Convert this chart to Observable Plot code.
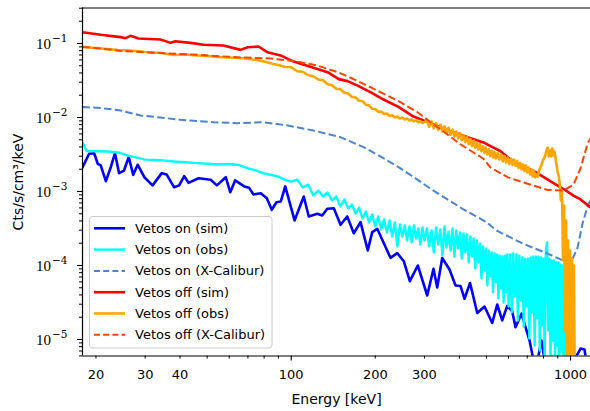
<!DOCTYPE html>
<html>
<head>
<meta charset="utf-8">
<script src="https://cdn.jsdelivr.net/npm/d3@7"></script>
<script src="https://cdn.jsdelivr.net/npm/@observablehq/plot@0.6"></script>
<style>
  html, body { margin: 0; padding: 0; background: #fff; }
  #chart { width: 590px; height: 411px; }
</style>
</head>
<body>
<div id="chart"></div>
<script>
// ---- Background spectra, counts / s / cm^3 / keV versus energy (keV) ----

const seriesNames = ["Vetos on (sim)", "Vetos on (obs)", "Vetos on (X-Calibur)",
                     "Vetos off (sim)", "Vetos off (obs)", "Vetos off (X-Calibur)"];
const seriesColors = ["#0000ff", "#00ffff", "#4a85d3", "#ff0000", "#ffa500", "#ff4500"];

// Vetos on, simulation
const onSimEnergy = [17.9,18.4,18.9,19.7,20.3,20.8,21.7,22.6,23.4,24.2,25.2,26.2,27.2,28.2,29.8,31.9,34.4,35.8,38.1,39.7,41.4,42.9,46.6,51.5,54.2,58.3,60.5,63.0,67.9,70.7,73.3,77.8,81.8,85.2,88.6,91.8,95.2,102.8,110.9,115.6,123.9,129.1,134.6,142.1,150.2,158.7,167.5,177.1,188.0,195.0,203.3,226.7,239.6,253.1,265.9,284.0,306.9,323.2,333.2,347.2,368.8,387.5,403.9,417.4,436.8,463.5,492.2,524.4,546.4,569.4,593.4,618.4,635.5,667.7,713.3,749.5,787.3,820.6,936.4,1068,1086,1122,1141];
const onSimRate = [2.11e-3,2.62e-3,3.23e-3,3.29e-3,2.37e-3,2.25e-3,1.38e-3,2.13e-3,3.29e-3,1.77e-3,1.92e-3,2.91e-3,1.68e-3,2.30e-3,1.56e-3,1.21e-3,1.77e-3,1.70e-3,1.14e-3,1.21e-3,1.61e-3,1.31e-3,1.51e-3,1.44e-3,1.21e-3,1.56e-3,9.78e-4,1.41e-3,1.17e-3,1.12e-3,9.11e-4,9.48e-4,8.12e-4,5.66e-4,7.17e-4,7.33e-4,1.17e-3,4.06e-4,8.56e-4,4.60e-4,4.99e-4,4.74e-4,5.84e-4,5.95e-4,3.55e-4,4.60e-4,2.73e-4,3.85e-4,1.60e-4,2.82e-4,3.13e-4,1.27e-4,1.47e-4,1.14e-4,6.14e-5,1.0e-4,3.93e-5,9.02e-5,5.04e-5,1.26e-4,8.83e-5,5.37e-5,5.28e-5,3.55e-5,5.80e-5,2.28e-5,2.79e-5,1.67e-5,2.97e-5,1.81e-5,2.84e-5,2.39e-5,1.47e-5,2.23e-5,9.69e-6,3.81e-6,9.69e-6,3.58e-6,3.26e-6,6.67e-6,7.55e-6,7.33e-6,4.89e-6];

// Vetos on, observed (fine binning)
const onObsEnergy = [18,18.5,20,22,24,26,28,30,34,38,42,46,50,55,60,65,70,75,80,85,90,95,
  100,105,110,115,120,125,130,135,140,145,150,155,160,165,170,175,180,185,190,195,200,205,210,215,220,225,230,235,240,245,250,255,260,265,270,275,280,285,290,295,300,
  306,312,318,324,330,336,342,348,354,360,366,372,378,384,390,396,402,408,414,420,426,432,438,444,450,456,462,468,474,480,486,492,498,504,510,516,522,528,534,540,546,552,558,564,570,576,582,588,594,600,
  608,616,624,632,640,648,656,664,672,680,688,696,704,712,720,728,736,744,752,760,768,776,784,792,800,808,816,824,832,840,848,856,864,872,880,888,896,904,912,920,928,936,944,952,960,968];
const onObsRate = [4.45e-3,3.53e-3,3.50e-3,3.47e-3,3.37e-3,3.05e-3,2.87e-3,2.70e-3,2.65e-3,2.54e-3,2.48e-3,2.42e-3,2.37e-3,2.32e-3,2.35e-3,2.28e-3,2.05e-3,1.92e-3,1.75e-3,1.67e-3,1.59e-3,1.43e-3,
  1.36e-3,1.45e-3,1.13e-3,1.24e-3,8.83e-4,1.03e-3,8.56e-4,9.69e-4,7.55e-4,8.56e-4,6.27e-4,7.79e-4,5.89e-4,6.67e-4,5.04e-4,6.08e-4,4.32e-4,5.36e-4,3.81e-4,4.89e-4,3.37e-4,4.60e-4,3.07e-4,4.19e-4,2.79e-4,4.06e-4,2.46e-4,3.81e-4,1.81e-4,3.58e-4,2.46e-4,3.47e-4,2.18e-4,3.37e-4,2.05e-4,3.47e-4,2.32e-4,3.16e-4,1.92e-4,3.26e-4,2.18e-4,
  3.16e-4,1.81e-4,2.97e-4,1.50e-4,3.26e-4,1.92e-4,3.07e-4,1.36e-4,3.37e-4,1.75e-4,2.88e-4,1.59e-4,3.16e-4,1.32e-4,2.97e-4,1.70e-4,2.79e-4,1.24e-4,2.71e-4,1.50e-4,2.62e-4,1.10e-4,2.46e-4,1.32e-4,2.32e-4,9.11e-5,2.18e-4,1.10e-4,1.98e-4,6.67e-5,1.81e-4,8.56e-5,1.70e-4,5.36e-5,1.59e-4,7.10e-5,1.50e-4,4.32e-5,1.45e-4,5.89e-5,1.41e-4,3.58e-5,1.36e-4,4.89e-5,1.32e-4,3.16e-5,1.36e-4,4.32e-5,1.41e-4,2.79e-5,
  1.41e-4,2.32e-5,1.45e-4,3.81e-5,1.41e-4,1.81e-5,1.36e-4,3.37e-5,1.28e-4,1.50e-5,1.24e-4,2.79e-5,1.24e-4,1.03e-5,1.28e-4,2.32e-5,1.32e-4,8.30e-6,1.32e-4,1.92e-5,1.32e-4,7.10e-6,1.28e-4,1.55e-5,1.24e-4,5.2e-6,1.59e-4,2.05e-4,1.32e-5,1.24e-4,4.46e-6,1.17e-4,9.69e-6,1.17e-4,3.81e-6,1.10e-4,8.30e-6,1.10e-4,3.58e-6,1.03e-4,7.10e-6,1.0e-4,3.26e-6,9.11e-5,2.78e-6,1.5e-6];

// Vetos on, X-Calibur
const onXcalEnergy = [17.9,20.8,24.5,28.9,34.0,40.1,52.7,64.2,79.6,97.0,120.2,150.2,181.5,209,242.3,274.1,315.3,410.6,500.4,543.3,678.8,827.2,921,1000,1060,1104,1151,1179];
const onXcalRate = [0.01386,0.01344,0.01244,0.01064,0.0100,0.00931,0.00864,0.00837,0.00864,0.00780,0.00667,0.00542,0.00397,0.00297,0.00213,0.00157,0.00109,5.84e-4,3.85e-4,2.97e-4,1.96e-4,1.45e-4,1.21e-4,1.06e-4,1.75e-4,3.69e-4,6.27e-4,7.55e-4];

// Vetos off, simulation
const offSimEnergy = [17.9,20.8,24.5,25.5,26.6,28.4,34.0,37.0,38.5,43.6,48.5,57.2,65.9,69.8,76.4,82.3,91.6,102,114,135,148,159,173,192,214,242,274,315,372,428,488,517,562,625,737,869,944,1025,1086,1179];
const offSimRate = [0.142,0.131,0.122,0.118,0.127,0.117,0.113,0.102,0.107,0.102,0.096,0.094,0.082,0.089,0.091,0.076,0.069,0.057,0.050,0.041,0.033,0.031,0.027,0.022,0.0175,0.0139,0.0103,0.0084,0.0065,0.0054,0.0046,0.0041,0.0035,0.0025,0.0019,0.0013,0.00108,0.00088,0.00078,0.00061];

// Vetos off, observed (fine binning)
const offObsEnergy = [18,20,22,24,26,28,30,34,38,42,46,50,55,60,65,70,75,80,85,90,95,
  100,105,110,115,120,125,130,135,140,145,150,155,160,165,170,175,180,185,190,195,200,205,210,215,220,225,230,235,240,245,250,255,260,265,270,275,280,285,290,295,300,
  306,312,318,324,330,336,342,348,354,360,366,372,378,384,390,396,402,408,414,420,426,432,438,444,450,456,462,468,474,480,486,492,498,504,510,516,522,528,534,540,
  548,556,564,572,580,588,596,604,612,620,628,636,644,652,660,668,676,684,692,700,708,716,724,732,740,748,756,764,772,780,788,796,804,812,820,828,836,844,852,860,868,876,884,892,900,908,916,924,932,940,948,956,964,972,980,988,996,1004,1012,1020,1028,1036,1044];
const offObsRate = [0.0897,0.0869,0.0843,0.0817,0.0804,0.0792,0.0768,0.0744,0.0699,0.0710,0.0688,0.0678,0.0657,0.0647,0.0637,0.0621,0.0598,0.0571,0.0537,0.0512,0.0481,
  0.0478,0.0422,0.0415,0.0372,0.0361,0.0326,0.0319,0.0281,0.0273,0.0245,0.0241,0.0216,0.0211,0.0189,0.0186,0.0168,0.0166,0.0149,0.0146,0.0131,0.0130,0.01196,0.01207,0.01113,0.01131,0.01046,0.01073,0.01002,0.01033,0.00968,0.00998,0.00938,0.00968,0.00912,0.00941,0.00887,0.00915,0.00863,0.00893,0.00841,0.00871,
  0.00919,0.00748,0.00883,0.00714,0.00843,0.00677,0.00799,0.00647,0.00760,0.00617,0.00725,0.00584,0.00684,0.00553,0.00647,0.00520,0.00612,0.00492,0.00578,0.00466,0.00540,0.00437,0.00512,0.00412,0.00484,0.00391,0.00460,0.00370,0.00434,0.00350,0.00409,0.00332,0.00391,0.00316,0.00372,0.00302,0.00355,0.00289,0.00343,0.00279,
  0.00332,0.00271,0.00316,0.00254,0.00302,0.00246,0.00288,0.00235,0.00279,0.00228,0.00271,0.00221,0.00258,0.00208,0.00243,0.00198,0.00232,0.00189,0.00225,0.00181,0.00211,0.00170,0.00198,0.00159,0.00189,0.00155,0.00170,0.00159,0.00192,0.00211,0.00232,0.00262,0.00279,0.00307,0.00358,0.00393,0.00297,0.00358,0.00297,0.00381,0.00307,0.00347,0.00279,0.00225,0.00181,0.00159,0.00121,7.55e-4,1.03e-3,1.17e-4,6.47e-4,1.32e-5,4.06e-4,2.78e-6,2.18e-4,2.78e-6,1.59e-4,2.78e-6,1.24e-4,2.78e-6,1.0e-4,2.78e-6,1.5e-6];

// Vetos off, X-Calibur
const offXcalEnergy = [17.9,20.8,24.5,31.3,47.3,65.9,84.3,102,124,147,167,192,221,246,283,315,351,404,488,517,595,702,827,944,1025,1086,1151,1179];
const offXcalRate = [0.0897,0.0856,0.0792,0.0756,0.0699,0.0647,0.0627,0.0580,0.0504,0.0409,0.0331,0.0257,0.0198,0.0161,0.0118,0.00869,0.00647,0.00432,0.00277,0.00211,0.00156,0.00127,0.00105,0.00103,0.00124,0.00205,0.00445,0.00520];

// Axes
const xDomain = [17.9, 1179];
const yDomain = [5.984e-6, 0.3018];
const xMajorTicks = [100, 1000];
const xMinorTicks = [20, 30, 40, 50, 60, 70, 80, 90, 200, 300, 400, 500, 600, 700, 800, 900];
const xTickLabels = [20, 30, 40, 100, 200, 300, 1000];
const yMajorTicks = [1e-1, 1e-2, 1e-3, 1e-4, 1e-5];
const yExponents = ["−1", "−2", "−3", "−4", "−5"];
const yMinorTicks = [6e-6, 7e-6, 8e-6, 9e-6,
  2e-5, 3e-5, 4e-5, 5e-5, 6e-5, 7e-5, 8e-5, 9e-5,
  2e-4, 3e-4, 4e-4, 5e-4, 6e-4, 7e-4, 8e-4, 9e-4,
  2e-3, 3e-3, 4e-3, 5e-3, 6e-3, 7e-3, 8e-3, 9e-3,
  2e-2, 3e-2, 4e-2, 5e-2, 6e-2, 7e-2, 8e-2, 9e-2,
  0.2, 0.3];
const xLabel = "Energy [keV]";
const yLabel = "Cts/s/cm³/keV";

function rows(energy, rate) {
  const n = Math.min(energy.length, rate.length);
  return d3.range(n).map(i => ({energy: energy[i], rate: rate[i]}));
}

const dash = "7.5,3.3";
const styles = [
  {width: 2.6},
  {width: 2.4},
  {width: 2, dash},
  {width: 2.6},
  {width: 2.6},
  {width: 2, dash}
];
const datasets = [
  rows(onSimEnergy, onSimRate),
  rows(onObsEnergy, onObsRate),
  rows(onXcalEnergy, onXcalRate),
  rows(offSimEnergy, offSimRate),
  rows(offObsEnergy, offObsRate),
  rows(offXcalEnergy, offXcalRate)
];

const lineMarks = datasets.map((data, i) => Plot.line(data, {
  x: "energy", y: "rate",
  stroke: seriesColors[i],
  strokeWidth: styles[i].width,
  strokeDasharray: styles[i].dash,
  strokeLinejoin: "round",
  strokeLinecap: styles[i].dash ? "butt" : "round",
  clip: true
}));

const plot = Plot.plot({
  width: 590,
  height: 411,
  marginLeft: 82,
  marginRight: 0,
  marginTop: 7.5,
  marginBottom: 55.5,
  style: {fontFamily: "DejaVu Sans", fontSize: "13px", color: "#000", background: "#fff"},
  x: {type: "log", domain: xDomain, axis: null},
  y: {type: "log", domain: yDomain, axis: null},
  marks: [
    ...lineMarks,
    // spines
    Plot.ruleX([xDomain[0]], {stroke: "#000", strokeWidth: 1.2}),
    Plot.ruleY(yDomain, {stroke: "#000", strokeWidth: 1.2}),
    // ticks
    Plot.axisX({ticks: xMajorTicks, tickSize: 5, tickFormat: () => "", label: null, strokeWidth: 1.1}),
    Plot.axisX({ticks: xMinorTicks, tickSize: 3, tickFormat: () => "", label: null, strokeWidth: 1}),
    Plot.axisY({ticks: yMajorTicks, tickSize: 5, tickFormat: () => "", label: null, strokeWidth: 1.1}),
    Plot.axisY({ticks: yMinorTicks, tickSize: 3, tickFormat: () => "", label: null, strokeWidth: 1}),
    // tick labels
    Plot.text(xTickLabels, {x: d => d, frameAnchor: "bottom", lineAnchor: "middle", dy: 19.3, text: d => String(d), fontSize: 13, fill: "#000"}),
    Plot.text(yMajorTicks, {y: d => d, frameAnchor: "left", lineAnchor: "middle", dx: -31.5, dy: 0.5, text: () => "10", textAnchor: "end", fontFamily: "Liberation Serif", fontSize: 15, fill: "#000"}),
    Plot.text(yMajorTicks, {y: d => d, frameAnchor: "left", lineAnchor: "middle", dx: -30.5, dy: -4.5, text: (d, i) => yExponents[i], textAnchor: "start", fontFamily: "DejaVu Serif", fontSize: 10.5, fill: "#000"}),
    // axis labels
    Plot.text([xLabel], {frameAnchor: "bottom", lineAnchor: "middle", textAnchor: "middle", dy: 43.3, text: d => d, fontSize: 14, fill: "#000"}),
    Plot.text([yLabel], {frameAnchor: "left", lineAnchor: "middle", textAnchor: "middle", dx: -64, rotate: -90, text: d => d, fontSize: 14, fill: "#000"})
  ]
});

// Legend box in the lower left of the frame
const svg = d3.select(plot);
const legend = svg.append("g")
  .attr("font-family", "DejaVu Sans")
  .attr("font-size", 13)
  .attr("text-anchor", "start");
legend.append("rect")
  .attr("x", 89.5).attr("y", 216.5)
  .attr("width", 182.5).attr("height", 131.5)
  .attr("rx", 3)
  .attr("fill", "#fff").attr("fill-opacity", 0.8)
  .attr("stroke", "#cccccc").attr("stroke-width", 1);
seriesNames.forEach((name, i) => {
  const y = 228.3 + i * 21.3;
  legend.append("line")
    .attr("x1", 94).attr("x2", 125).attr("y1", y).attr("y2", y)
    .attr("stroke", seriesColors[i])
    .attr("stroke-width", styles[i].width)
    .attr("stroke-dasharray", styles[i].dash ? "6,3.2" : null);
  legend.append("text")
    .attr("x", 135).attr("y", y).attr("dy", "0.35em")
    .attr("text-anchor", "start")
    .attr("fill", "#000")
    .text(name);
});

document.getElementById("chart").appendChild(plot);
</script>
</body>
</html>
